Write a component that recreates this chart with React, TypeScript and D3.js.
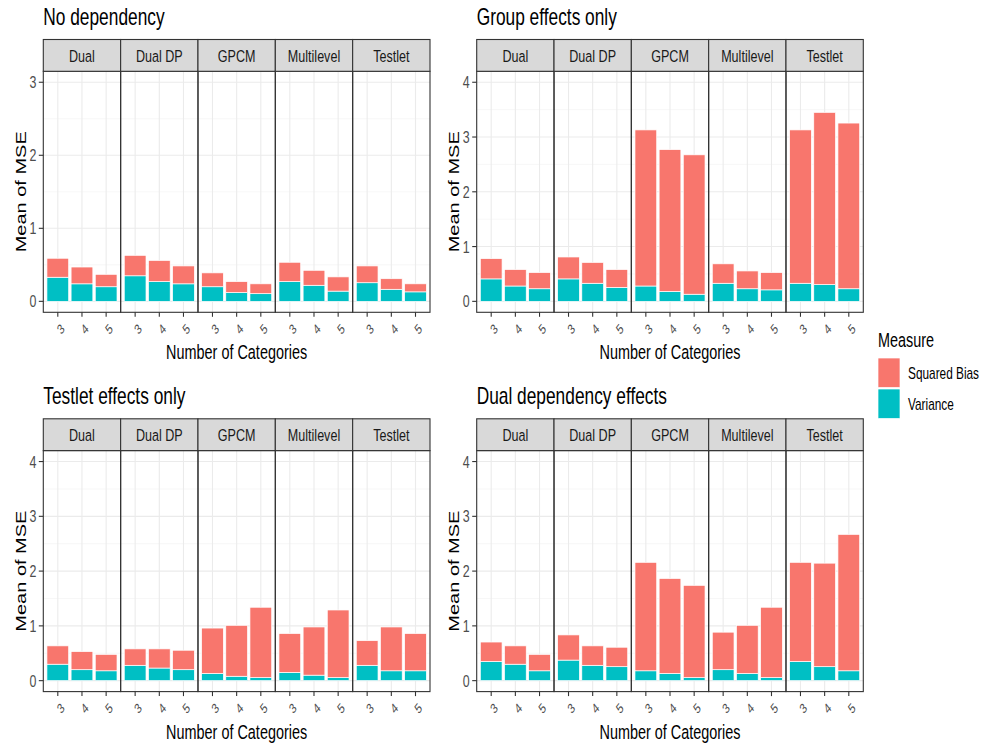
import React from 'react';
import * as d3 from 'd3';

// Estimation models (facets) and number of response categories (x axis)
const models = ['Dual', 'Dual DP', 'GPCM', 'Multilevel', 'Testlet'];
const categories = ['3', '4', '5'];
const measures = ['Squared Bias', 'Variance'];
const measureColors = ['#F8766D', '#00BFC4'];

// Values ordered model by model, categories 3, 4, 5 within each model
const noDepVariance = [0.33, 0.24, 0.2, 0.35, 0.27, 0.24, 0.2, 0.12, 0.105, 0.27, 0.22, 0.14, 0.255, 0.165, 0.13];
const noDepBias = [0.26, 0.23, 0.17, 0.28, 0.29, 0.245, 0.19, 0.15, 0.135, 0.265, 0.205, 0.195, 0.23, 0.145, 0.11];

const groupVariance = [0.41, 0.28, 0.23, 0.41, 0.33, 0.255, 0.28, 0.18, 0.13, 0.33, 0.23, 0.21, 0.33, 0.305, 0.23];
const groupBias = [0.37, 0.3, 0.295, 0.4, 0.38, 0.325, 2.85, 2.59, 2.545, 0.355, 0.325, 0.315, 2.8, 3.145, 3.025];

const testletVariance = [0.3, 0.2, 0.18, 0.28, 0.23, 0.2, 0.13, 0.08, 0.055, 0.15, 0.1, 0.055, 0.28, 0.18, 0.18];
const testletBias = [0.335, 0.33, 0.3, 0.3, 0.35, 0.355, 0.83, 0.93, 1.285, 0.71, 0.88, 1.235, 0.45, 0.8, 0.68];

const dualVariance = [0.35, 0.3, 0.18, 0.375, 0.28, 0.255, 0.18, 0.13, 0.055, 0.2, 0.13, 0.055, 0.35, 0.255, 0.18];
const dualBias = [0.355, 0.335, 0.3, 0.46, 0.355, 0.355, 1.98, 1.735, 1.685, 0.685, 0.88, 1.285, 1.81, 1.89, 2.49];

const panelTitles = ['No dependency', 'Group effects only', 'Testlet effects only', 'Dual dependency effects'];
const panelVariance = [noDepVariance, groupVariance, testletVariance, dualVariance];
const panelBias = [noDepBias, groupBias, testletBias, dualBias];
const panelYMax = [3, 4, 4, 4];

const W = 987;
const H = 746;
const SX = 0.74; // horizontal squeeze applied to all text
const FONT = '"Liberation Sans", Arial, Helvetica, sans-serif';

// Grid of panels: column left/right edges, row strip top
const colEdges = [[43.3, 430], [476.7, 863.3]];
const rowTops = [39.5, 418.8];
const STRIP_H = 31.8;
const PLOT_H = 241;

type TxtProps = {
  x: number; y: number; size: number; rotate?: number; anchor?: string;
  fill?: string; children: React.ReactNode;
};

function Txt({ x, y, size, rotate = 0, anchor = 'start', fill = '#000', children }: TxtProps) {
  return (
    <text
      transform={`translate(${x},${y}) scale(${SX},1) rotate(${rotate})`}
      fontFamily={FONT}
      fontSize={size}
      textAnchor={anchor}
      fill={fill}
    >
      {children}
    </text>
  );
}

function Panel({ idx }: { idx: number }) {
  const [left, right] = colEdges[idx % 2];
  const stripTop = rowTops[Math.floor(idx / 2)];
  const plotTop = stripTop + STRIP_H;
  const plotBottom = plotTop + PLOT_H;
  const yMax = panelYMax[idx];
  const pad = yMax * 0.05;

  const y = d3.scaleLinear().domain([-pad, yMax + pad]).range([plotBottom, plotTop]);
  const fx = d3.scaleBand().domain(models).range([left, right]).paddingInner(0).paddingOuter(0);
  const fw = fx.bandwidth();

  const rows = models.flatMap((m, mi) =>
    categories.map((c, ci) => ({
      model: m,
      cat: c,
      pos: ci + 1,
      Variance: panelVariance[idx][mi * 3 + ci],
      'Squared Bias': panelBias[idx][mi * 3 + ci],
    }))
  );
  const stacked = d3.stack<any>().keys(['Variance', 'Squared Bias'])(rows);

  const majorTicks = d3.range(0, yMax + 0.001, 1);
  const minorTicks = d3.range(0.5, yMax + pad, 1);

  const xFor = (m: string) => d3.scaleLinear().domain([0.4, 3.6]).range([fx(m)!, fx(m)! + fw]);
  const step = fw / 3.2;
  const barW = step * 0.9;

  return (
    <g>
      <Txt x={left} y={stripTop - 14.5} size={23.4}>{panelTitles[idx]}</Txt>

      {models.map((m) => {
        const x0 = fx(m)!;
        const xs = xFor(m);
        return (
          <g key={m}>
            <rect x={x0} y={plotTop} width={fw} height={PLOT_H} fill="#fff" />
            {minorTicks.map((t) => (
              <line key={'mn' + t} x1={x0} x2={x0 + fw} y1={y(t)} y2={y(t)} stroke="#F2F2F2" strokeWidth={0.6} />
            ))}
            {majorTicks.map((t) => (
              <line key={'mj' + t} x1={x0} x2={x0 + fw} y1={y(t)} y2={y(t)} stroke="#EBEBEB" strokeWidth={1.1} />
            ))}
            {categories.map((c, ci) => (
              <line key={'v' + c} x1={xs(ci + 1)} x2={xs(ci + 1)} y1={plotTop} y2={plotBottom} stroke="#EBEBEB" strokeWidth={1.1} />
            ))}
          </g>
        );
      })}

      {stacked.map((layer) => {
        const color = layer.key === 'Variance' ? measureColors[1] : measureColors[0];
        return (
          <g key={layer.key}>
            {layer.map((d: any, i: number) => {
              const r = rows[i];
              const xs = xFor(r.model);
              return (
                <rect
                  key={i}
                  x={xs(r.pos) - barW / 2}
                  width={barW}
                  y={y(d[1])}
                  height={y(d[0]) - y(d[1])}
                  fill={color}
                  stroke="#fff"
                  strokeWidth={0.7}
                />
              );
            })}
          </g>
        );
      })}

      {models.map((m) => {
        const x0 = fx(m)!;
        const xs = xFor(m);
        return (
          <g key={'f' + m}>
            <rect x={x0} y={plotTop} width={fw} height={PLOT_H} fill="none" stroke="#333" strokeWidth={1.1} />
            <rect x={x0} y={stripTop} width={fw} height={STRIP_H} fill="#D9D9D9" stroke="#333" strokeWidth={1.1} />
            <Txt x={x0 + fw / 2} y={stripTop + STRIP_H / 2 + 6.2} size={17} anchor="middle" fill="#1A1A1A">{m}</Txt>
            {categories.map((c, ci) => (
              <g key={'t' + c}>
                <line x1={xs(ci + 1)} x2={xs(ci + 1)} y1={plotBottom} y2={plotBottom + 4.5} stroke="#333" strokeWidth={1.1} />
                <g transform={`translate(${xs(ci + 1) + 3},${plotBottom + 17}) scale(${SX},1) rotate(-45)`}>
                  <text fontFamily={FONT} fontSize={14} textAnchor="middle" dominantBaseline="central" fill="#4D4D4D">{c}</text>
                </g>
              </g>
            ))}
          </g>
        );
      })}

      {majorTicks.map((t) => (
        <g key={'yt' + t}>
          <line x1={left - 4.5} x2={left} y1={y(t)} y2={y(t)} stroke="#333" strokeWidth={1.1} />
          <Txt x={left - 7} y={y(t) + 6} size={16.8} anchor="end" fill="#4D4D4D">{String(t)}</Txt>
        </g>
      ))}

      <Txt x={(left + right) / 2} y={plotBottom + 47} size={19.5} anchor="middle">Number of Categories</Txt>
      <Txt x={left - 17.5} y={(plotTop + plotBottom) / 2} size={20} anchor="middle" rotate={-90}>Mean of MSE</Txt>
    </g>
  );
}

export default function App() {
  return (
    <svg width={W} height={H} style={{ position: 'absolute', left: 0, top: 0, background: '#fff' }}>
      <rect x={0} y={0} width={W} height={H} fill="#fff" />
      {panelTitles.map((_, i) => (
        <Panel key={i} idx={i} />
      ))}
      <g>
        <Txt x={878} y={347} size={19.5}>Measure</Txt>
        {measures.map((m, i) => (
          <g key={m}>
            <rect x={878} y={358 + i * 31} width={22} height={29.5} fill={measureColors[i]} stroke="#fff" strokeWidth={0.7} />
            <Txt x={908} y={379 + i * 30.5} size={16}>{m}</Txt>
          </g>
        ))}
      </g>
    </svg>
  );
}
